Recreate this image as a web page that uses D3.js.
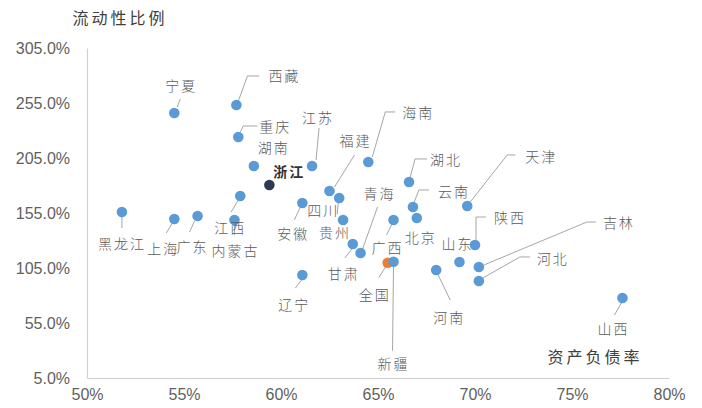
<!DOCTYPE html>
<html>
<head>
<meta charset="utf-8">
<script src="https://cdn.jsdelivr.net/npm/d3@7"></script>
<style>
  html, body { margin: 0; padding: 0; background: #fff; }
  svg { display: block; }
</style>
</head>
<body>
<svg id="chart" width="702" height="408"></svg>
<script>
// Province names, debt-to-asset ratio (%) and liquidity ratio (%)
const regions = ["宁夏","西藏","重庆","湖南","江苏","浙江","海南","福建","四川","安徽","贵州",
  "甘肃","青海","广西","全国","新疆","湖北","云南","北京","天津","陕西","山东","吉林",
  "河北","河南","山西","黑龙江","上海","广东","江西","内蒙古","辽宁"];
const debtRatio = [54.5, 57.7, 57.8, 58.6, 61.6, 59.4, 64.5, 62.5, 63.0, 61.1, 63.2,
  63.7, 64.1, 65.8, 65.5, 65.8, 66.6, 66.8, 67.0, 69.6, 70.0, 69.2, 70.2,
  70.2, 68.0, 77.6, 51.8, 54.5, 55.7, 57.9, 57.6, 61.1];
const liquidityRatio = [245.9, 253.2, 224.1, 197.7, 197.7, 180.5, 201.4, 175.0, 168.6, 164.1, 148.6,
  126.8, 118.6, 148.6, 109.8, 110.7, 183.2, 160.5, 150.5, 161.4, 125.9, 110.5, 105.9,
  93.2, 103.2, 77.7, 155.9, 149.5, 152.3, 170.5, 148.6, 98.6];

// Axis ticks
const xTicks = [0.50, 0.55, 0.60, 0.65, 0.70, 0.75, 0.80];
const yTicks = [5, 55, 105, 155, 205, 255, 305];

// Label placement: label centre offset and leader-line vertices, relative to the marker (px)
const labelLayout = {
  "宁夏":  {d:[6,-28],  lead:[[3,-6],[6,-14]]},
  "西藏":  {d:[47,-30], lead:[[2,-4],[11,-29],[23,-29]]},
  "重庆":  {d:[36,-11], lead:[[2,-5],[5,-11],[19,-11]]},
  "湖南":  {d:[19,-19]},
  "江苏":  {d:[5,-49],  lead:[[4,-6],[7,-38]]},
  "浙江":  {d:[19,-14]},
  "海南":  {d:[49,-50], lead:[[4,-5],[17,-50],[27,-50]]},
  "福建":  {d:[25,-51], lead:[[5,-4],[25,-36]]},
  "四川":  {d:[-17,12], lead:[[-1,5],[-2,16]]},
  "安徽":  {d:[-10,30], lead:[[-2,4],[-8,17]]},
  "贵州":  {d:[-9,12]},
  "甘肃":  {d:[-10,29], lead:[[0,4],[-8,14]]},
  "青海":  {d:[18,-60], lead:[[2,-4],[17,-46]]},
  "广西":  {d:[-7,27],  lead:[[-2,5],[-7,15]]},
  "全国":  {d:[-14,31], lead:[[-2,4],[-9,15]]},
  "新疆":  {d:[-1,101], lead:[[0,4],[-1,89]]},
  "湖北":  {d:[36,-23], lead:[[1,-4],[6,-23],[18,-23]]},
  "云南":  {d:[40,-16], lead:[[1,-4],[6,-17],[16,-17]]},
  "北京":  {d:[3,19]},
  "天津":  {d:[73,-50], lead:[[3,-4],[40,-51],[48,-51]]},
  "陕西":  {d:[34,-28], lead:[[1,-5],[1,-28],[11,-28]]},
  "山东":  {d:[-3,-19]},
  "吉林":  {d:[139,-45],lead:[[5,-2],[108,-45],[117,-45]]},
  "河北":  {d:[73,-23], lead:[[4,-3],[41,-24],[51,-24]]},
  "河南":  {d:[12,47],  lead:[[2,5],[14,30]]},
  "山西":  {d:[-10,30], lead:[[-1,5],[-8,17]]},
  "黑龙江":{d:[-1,31],  lead:[[0,5],[0,16]]},
  "上海":  {d:[-12,29], lead:[[-2,4],[-8,14]]},
  "广东":  {d:[-6,30],  lead:[[-3,5],[-8,16]]},
  "江西":  {d:[-11,31], lead:[[-2,4],[-9,16]]},
  "内蒙古":{d:[0,30],   lead:[[0,5],[0,15]]},
  "辽宁":  {d:[-9,29],  lead:[[0,4],[-7,13]]}
};

const svg = d3.select("#chart");
const margin = {left: 87, right: 33, top: 48, bottom: 30};
const W = 702, H = 408;

const x = d3.scaleLinear().domain([0.50, 0.80]).range([margin.left, W - margin.right]);
const y = d3.scaleLinear().domain([5, 305]).range([H - margin.bottom, margin.top]);

const tickFont = "'Liberation Sans', Arial, sans-serif";
const cjkFont = "'Noto Sans CJK SC', sans-serif";

// X axis
const xAxis = svg.append("g")
  .attr("transform", `translate(0,${y(5)})`)
  .call(d3.axisBottom(x).tickValues(xTicks).tickSize(0).tickPadding(11)
    .tickFormat(d3.format(".0%")));
xAxis.select(".domain").attr("stroke", "#d0d0d0").attr("stroke-width", 1.2);
xAxis.selectAll("text").attr("font-family", tickFont).attr("font-size", 16).attr("fill", "#5f5f5f");

// Y axis
const yAxis = svg.append("g")
  .attr("transform", `translate(${x(0.50)},0)`)
  .call(d3.axisLeft(y).tickValues(yTicks).tickSize(0).tickPadding(17)
    .tickFormat(d => d.toFixed(1) + "%"));
yAxis.select(".domain").attr("stroke", "#d0d0d0").attr("stroke-width", 1.2);
yAxis.selectAll("text").attr("font-family", tickFont).attr("font-size", 16).attr("fill", "#5f5f5f");

// Axis titles
svg.append("text").attr("x", 120).attr("y", 24).attr("text-anchor", "middle")
  .attr("font-family", cjkFont).attr("font-size", 16).attr("letter-spacing", 3)
  .attr("fill", "#404040").text("流动性比例");
svg.append("text").attr("x", 595).attr("y", 363).attr("text-anchor", "middle")
  .attr("font-family", cjkFont).attr("font-size", 16).attr("letter-spacing", 3)
  .attr("fill", "#404040").text("资产负债率");

const pts = regions.map((name, i) => ({
  name, px: x(debtRatio[i] / 100), py: y(liquidityRatio[i])
}));

// Leader lines
const line = d3.line();
svg.append("g").selectAll("path")
  .data(pts.filter(p => labelLayout[p.name].lead))
  .join("path")
  .attr("d", p => line(labelLayout[p.name].lead.map(([dx, dy]) => [p.px + dx, p.py + dy])))
  .attr("fill", "none").attr("stroke", "#a6a6a6").attr("stroke-width", 1);

// Markers
svg.append("g").selectAll("circle")
  .data(pts)
  .join("circle")
  .attr("cx", p => p.px).attr("cy", p => p.py).attr("r", 5.3)
  .attr("fill", p => p.name === "全国" ? "#ed7d31" : p.name === "浙江" ? "#2f3a52" : "#5b9bd5");

// Data labels
svg.append("g").selectAll("text")
  .data(pts)
  .join("text")
  .attr("x", p => p.px + labelLayout[p.name].d[0] + 1)
  .attr("y", p => p.py + labelLayout[p.name].d[1])
  .attr("text-anchor", "middle").attr("dominant-baseline", "central")
  .attr("font-family", cjkFont)
  .attr("font-size", 14)
  .attr("letter-spacing", 2)
  .attr("font-weight", p => p.name === "浙江" ? 700 : 300)
  .attr("fill", p => p.name === "浙江" ? "#333333" : "#5a5a5a")
  .text(p => p.name);
</script>
</body>
</html>
